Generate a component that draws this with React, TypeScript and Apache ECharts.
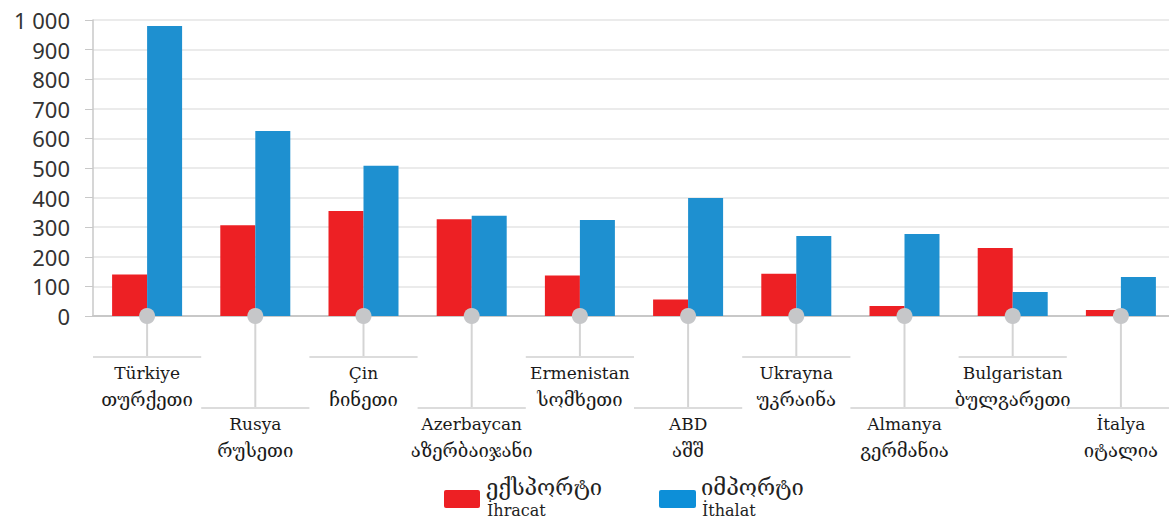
import React, { useEffect, useRef } from "react";
import * as echarts from "echarts";

const countriesTr = ["Türkiye", "Rusya", "Çin", "Azerbaycan", "Ermenistan", "ABD", "Ukrayna", "Almanya", "Bulgaristan", "İtalya"];
const countriesKa = ["თურქეთი", "რუსეთი", "ჩინეთი", "აზერბაიჯანი", "სომხეთი", "აშშ", "უკრაინა", "გერმანია", "ბულგარეთი", "იტალია"];
const exportValues = [140, 307, 355, 327, 137, 56, 143, 34, 230, 20];
const importValues = [980, 625, 508, 339, 324, 399, 270, 277, 81, 132];
const yTicks = [0, 100, 200, 300, 400, 500, 600, 700, 800, 900, 1000];
const legendKa = ["ექსპორტი", "იმპორტი"];
const legendTr = ["İhracat", "İthalat"];

const RED = "#ed2024";
const BLUE = "#1e90d0";

export default function App() {
  const ref = useRef<HTMLDivElement>(null);
  useEffect(() => {
    document.body.style.margin = "0";
    const chart = echarts.init(ref.current!, null, { renderer: "svg" });
    const serif = "DejaVu Serif";
    chart.setOption({
      animation: false,
      grid: { left: 93, width: 1082, top: 20, height: 296, containLabel: false, outerBoundsMode: "none" },
      xAxis: {
        type: "category",
        data: countriesTr,
        axisTick: { show: false },
        axisLine: { show: true, lineStyle: { color: "#c8c8c8", width: 2 } },
        axisLabel: {
          interval: 0,
          margin: 43,
          formatter: (v: string, i: number) => {
            const ka = countriesKa[i];
            return i % 2 === 0 ? `{a|${v}}\n{b|${ka}}` : `{s| }\n{a|${v}}\n{b|${ka}}`;
          },
          rich: {
            s: { lineHeight: 51, fontSize: 10 },
            a: { fontFamily: serif, fontSize: 17, color: "#1a1a1a", lineHeight: 27 },
            b: { fontFamily: serif, fontSize: 18.5, color: "#1a1a1a", lineHeight: 27 },
          },
        },
      },
      yAxis: {
        type: "value",
        min: yTicks[0],
        max: yTicks[yTicks.length - 1],
        interval: 100,
        axisLine: { show: true, lineStyle: { color: "#c8c8c8", width: 1.5 } },
        axisTick: { show: true, length: 8, lineStyle: { color: "#c8c8c8" } },
        splitLine: { lineStyle: { color: "#ebebeb", width: 2 } },
        axisLabel: {
          margin: 23,
          fontFamily: "Noto Sans",
          fontSize: 22,
          color: "#333",
          formatter: (v: number) => (v >= 1000 ? String(v).replace(/\B(?=(\d{3})+(?!\d))/g, " ") : String(v)),
        },
      },
      series: [
        {
          name: "İhracat",
          type: "bar",
          data: exportValues,
          barWidth: 35,
          barGap: "0%",
          itemStyle: { color: RED },
        },
        {
          name: "İthalat",
          type: "bar",
          data: importValues,
          barWidth: 35,
          barGap: "0%",
          itemStyle: { color: BLUE },
        },
        {
          type: "custom",
          z: 5,
          clip: false,
          silent: true,
          data: countriesTr.map((_, i) => [i, i % 2]),
          encode: { x: 0 },
          renderItem: (params: any, api: any) => {
            const idx = api.value(0);
            const lvl = api.value(1);
            const base = api.coord([idx, 0]);
            const bw = api.size([1, 0])[0];
            const ly = base[1] + (lvl ? 92 : 41);
            return {
              type: "group",
              children: [
                { type: "line", shape: { x1: base[0], y1: base[1], x2: base[0], y2: ly }, style: { stroke: "#d4d4d4", lineWidth: 2 } },
                { type: "line", shape: { x1: base[0] - bw / 2, y1: ly, x2: base[0] + bw / 2, y2: ly }, style: { stroke: "#dcdcdc", lineWidth: 2 } },
                { type: "circle", shape: { cx: base[0], cy: base[1], r: 8 }, style: { fill: "#c6c7c9" } },
              ],
            };
          },
        },
      ],
      graphic: [
        { type: "rect", shape: { x: 444, y: 490, width: 36, height: 18, r: 2 }, style: { fill: RED } },
        { type: "text", x: 486, y: 476, style: { text: legendKa[0], font: "22px 'DejaVu Serif'", fill: "#222" } },
        { type: "text", x: 487, y: 502, style: { text: legendTr[0], font: "16px 'DejaVu Serif'", fill: "#222" } },
        { type: "rect", shape: { x: 659, y: 490, width: 37, height: 18, r: 2 }, style: { fill: "#0d8fd8" } },
        { type: "text", x: 701, y: 476, style: { text: legendKa[1], font: "22px 'DejaVu Serif'", fill: "#222" } },
        { type: "text", x: 702, y: 502, style: { text: legendTr[1], font: "16px 'DejaVu Serif'", fill: "#222" } },
      ],
    });
    return () => chart.dispose();
  }, []);
  return <div ref={ref} style={{ width: 1169, height: 524 }} />;
}
